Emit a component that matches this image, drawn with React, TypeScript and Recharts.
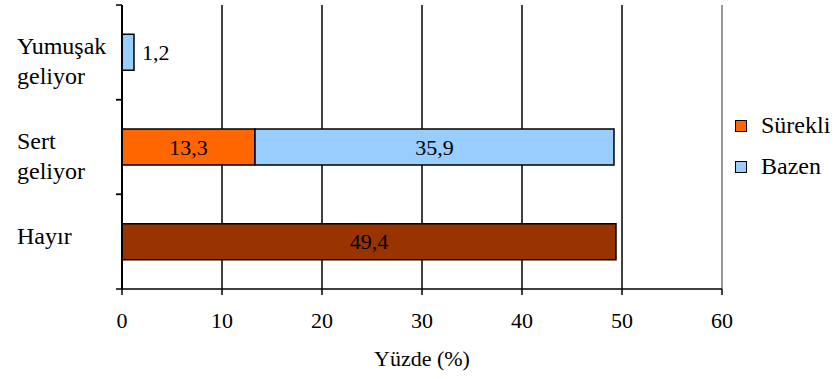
import { Bar, BarChart, CartesianGrid, LabelList, Legend, ReferenceLine, XAxis, YAxis } from "recharts";

const categories = ["Yumuşak geliyor", "Sert geliyor", "Hayır"];
const surekli = [null, 13.3, null];
const bazen = [1.2, 35.9, null];
const hayir = [null, null, 49.4];
const xTicks = [0, 10, 20, 30, 40, 50, 60];
const legendOrder = ["Sürekli", "Bazen"];

const data = categories.map((name, i) => ({
  name,
  surekli: surekli[i],
  bazen: bazen[i],
  hayir: hayir[i],
}));

const FONT = "Liberation Serif, DejaVu Serif, serif";

const fmt = (v: number) => v.toFixed(1).replace(".", ",");

// category names wrap onto two lines; tick marks sit on the band edges
function CategoryTick({ x, y, payload }: any) {
  const lines = String(payload.value).split(" ");
  const half = payload.offset ?? 0;
  return (
    <g>
      <line x1={x - 6} x2={x} y1={y - half} y2={y - half} stroke="#000" strokeWidth={1.5} />
      <line x1={x - 6} x2={x} y1={y + half} y2={y + half} stroke="#000" strokeWidth={1.5} />
      <text x={x - 105} y={y + 2} style={{ fontFamily: FONT }} fontSize={24} fill="#000">
        {lines.map((line, i) => (
          <tspan key={i} x={x - 105} dy={i === 0 ? 0 : 30}>
            {line}
          </tspan>
        ))}
      </text>
    </g>
  );
}

function ValueLabel(props: any) {
  const { value } = props;
  if (value == null || value === 0) return null;
  const box = props.viewBox ?? props;
  const { x, y, width, height } = box;
  const outside = width < 30;
  return (
    <text
      x={outside ? x + width + 8 : x + width / 2}
      y={y + height / 2}
      dy="0.35em"
      textAnchor={outside ? "start" : "middle"}
      style={{ fontFamily: FONT }}
      fontSize={22}
      fill="#000"
    >
      {fmt(value)}
    </text>
  );
}

function LegendBox({ payload }: any) {
  const items = (payload ?? [])
    .filter((p: any) => legendOrder.includes(p.value))
    .sort((a: any, b: any) => legendOrder.indexOf(a.value) - legendOrder.indexOf(b.value));
  return (
    <div style={{ fontFamily: FONT, fontSize: 24, color: "#000" }}>
      {items.map((p: any) => (
        <div key={p.value} style={{ display: "flex", alignItems: "center", height: 41 }}>
          <span
            style={{
              display: "inline-block",
              width: 10,
              height: 10,
              border: "1.5px solid #000",
              background: p.color,
              marginRight: 14,
            }}
          />
          <span style={{ whiteSpace: "nowrap" }}>{p.value}</span>
        </div>
      ))}
    </div>
  );
}

export default function App() {
  return (
    <div
      style={{
        position: "absolute",
        left: 0,
        top: 0,
        width: 837,
        height: 379,
        overflow: "hidden",
        background: "#fff",
        fontFamily: FONT,
      }}
    >
      <BarChart
        width={837}
        height={379}
        data={data}
        layout="vertical"
        margin={{ top: 5, right: 115, bottom: 0, left: 0 }}
        barCategoryGap="31%"
        style={{ fontFamily: FONT }}
      >
        <CartesianGrid horizontal={false} stroke="#000" strokeWidth={1.5} />
        <XAxis
          type="number"
          domain={[0, 60]}
          ticks={xTicks}
          interval={0}
          height={90}
          tickSize={6}
          tickMargin={17}
          stroke="#000"
          strokeWidth={1.5}
          tick={{ fill: "#000", fontSize: 22, style: { fontFamily: FONT } }}
          label={{
            value: "Yüzde (%)",
            position: "insideBottom",
            offset: 13,
            fill: "#000",
            fontSize: 22,
            style: { fontFamily: FONT },
          }}
        />
        <XAxis
          xAxisId="top"
          orientation="top"
          type="number"
          domain={[0, 60]}
          height={0}
          tick={false}
          tickLine={false}
          axisLine={{ stroke: "#999", strokeWidth: 2 }}
        />
        <YAxis
          type="category"
          dataKey="name"
          width={122}
          interval={0}
          tickSize={0}
          tickMargin={0}
          tickLine={false}
          axisLine={{ stroke: "#000", strokeWidth: 2 }}
          tick={<CategoryTick />}
        />
        <ReferenceLine x={60} stroke="#999" strokeWidth={2} />
        <Bar dataKey="surekli" name="Sürekli" stackId="a" fill="#FF6600" stroke="#000" strokeWidth={1.5} isAnimationActive={false}>
          <LabelList dataKey="surekli" content={ValueLabel} />
        </Bar>
        <Bar dataKey="bazen" name="Bazen" stackId="a" fill="#99CCFF" stroke="#000" strokeWidth={1.5} isAnimationActive={false}>
          <LabelList dataKey="bazen" content={ValueLabel} />
        </Bar>
        <Bar
          dataKey="hayir"
          name="Hayır"
          stackId="a"
          fill="#993300"
          stroke="#000"
          strokeWidth={1.5}
          legendType="none"
          isAnimationActive={false}
        >
          <LabelList dataKey="hayir" content={ValueLabel} />
        </Bar>
        <Legend
          layout="vertical"
          align="center"
          verticalAlign="middle"
          wrapperStyle={{ left: 735, top: 105 }}
          content={LegendBox}
        />
      </BarChart>
    </div>
  );
}
